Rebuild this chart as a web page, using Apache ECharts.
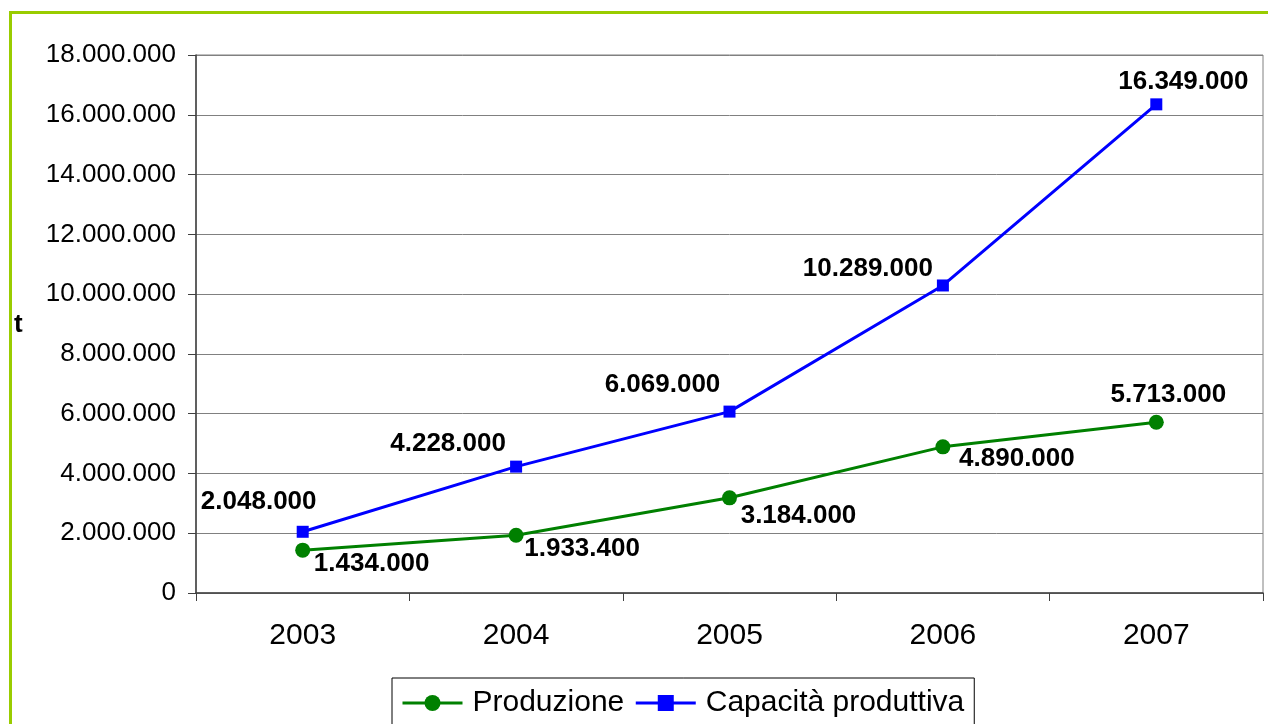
<!DOCTYPE html>
<html>
<head>
<meta charset="utf-8">
<script src="https://cdn.jsdelivr.net/npm/echarts@6/dist/echarts.min.js"></script>
<style>
  html, body { margin: 0; padding: 0; background: #fff; }
  #main { width: 1268px; height: 724px; }
</style>
</head>
<body>
<div id="main"></div>
<script>
var years = ['2003', '2004', '2005', '2006', '2007'];
var produzione = [1434000, 1933400, 3184000, 4890000, 5713000];
var capacita = [2048000, 4228000, 6069000, 10289000, 16349000];
var yTicks = [0, 2000000, 4000000, 6000000, 8000000, 10000000, 12000000, 14000000, 16000000, 18000000];

// label placement around each marker (px, centre of text vs centre of marker)
var prodOffsets = [[69, 14], [66, 14], [69, 18], [74, 12], [12, -27]];
var capOffsets = [[-44, -30], [-68, -23], [-67, -27], [-75, -17], [27, -23]];

var FONT = "'Liberation Sans', Arial, sans-serif";

function fmt(v) {
    return String(v).replace(/\B(?=(\d{3})+(?!\d))/g, '.');
}

function withLabels(values, offsets) {
    var out = [];
    for (var i = 0; i < values.length; i++) {
        out.push({
            value: values[i],
            label: { offset: offsets[i] }
        });
    }
    return out;
}

var dom = document.getElementById('main');
var myChart = echarts.init(dom);

var option = {
    animation: false,
    textStyle: { fontFamily: FONT },
    graphic: [
        {
            type: 'rect',
            shape: { x: 10.5, y: 12.5, width: 1400, height: 900 },
            style: { fill: 'none', stroke: '#99cc00', lineWidth: 3 },
            z: -1
        }
    ],
    title: {
        text: 't',
        left: 9,
        top: 307,
        textStyle: { fontFamily: FONT, fontSize: 26, fontWeight: 'bold', color: '#000' }
    },
    grid: {
        left: 196,
        top: 55,
        right: 5,
        bottom: 131,
        show: true,
        borderColor: '#808080',
        borderWidth: 1
    },
    legend: {
        left: 392,
        top: 678,
        padding: [10, 10, 20, 9],
        itemGap: 10,
        itemWidth: 60,
        itemHeight: 20,
        borderColor: '#000',
        borderWidth: 1,
        borderRadius: 0,
        lineStyle: { width: 3 },
        textStyle: { fontFamily: FONT, fontSize: 30, color: '#000', padding: [0, 0, 0, 5] },
        data: ['Produzione', 'Capacità produttiva']
    },
    xAxis: {
        type: 'category',
        data: years,
        boundaryGap: true,
        axisLine: { lineStyle: { color: '#404040', width: 1.5 } },
        axisTick: { show: true, length: 8, lineStyle: { color: '#404040' } },
        axisLabel: { fontFamily: FONT, fontSize: 30, color: '#000', margin: 28 },
        splitLine: { show: false }
    },
    yAxis: {
        type: 'value',
        min: 0,
        max: 18000000,
        interval: 2000000,
        axisLine: { show: true, lineStyle: { color: '#404040', width: 1.5 } },
        axisTick: { show: true, length: 8, inside: false, lineStyle: { color: '#404040' } },
        axisLabel: {
            fontFamily: FONT,
            fontSize: 26,
            color: '#000',
            margin: 20,
            formatter: function (v) { return yTicks.indexOf(v) >= 0 ? fmt(v) : ''; }
        },
        splitLine: { show: true, lineStyle: { color: '#808080', width: 1 } }
    },
    series: [
        {
            name: 'Produzione',
            type: 'line',
            data: withLabels(produzione, prodOffsets),
            color: '#008000',
            symbol: 'circle',
            symbolSize: 15,
            lineStyle: { width: 3, color: '#008000' },
            itemStyle: { color: '#008000' },
            label: {
                show: true,
                position: 'inside',
                align: 'center',
                verticalAlign: 'middle',
                fontFamily: FONT,
                fontSize: 26,
                fontWeight: 'bold',
                color: '#000',
                formatter: function (p) { return fmt(p.value); }
            },
            z: 3
        },
        {
            name: 'Capacità produttiva',
            type: 'line',
            data: withLabels(capacita, capOffsets),
            color: '#0000ff',
            symbol: 'rect',
            symbolSize: 12,
            lineStyle: { width: 3, color: '#0000ff' },
            itemStyle: { color: '#0000ff' },
            label: {
                show: true,
                position: 'inside',
                align: 'center',
                verticalAlign: 'middle',
                fontFamily: FONT,
                fontSize: 26,
                fontWeight: 'bold',
                color: '#000',
                formatter: function (p) { return fmt(p.value); }
            },
            z: 4
        }
    ]
};

myChart.setOption(option, true);
</script>
</body>
</html>
